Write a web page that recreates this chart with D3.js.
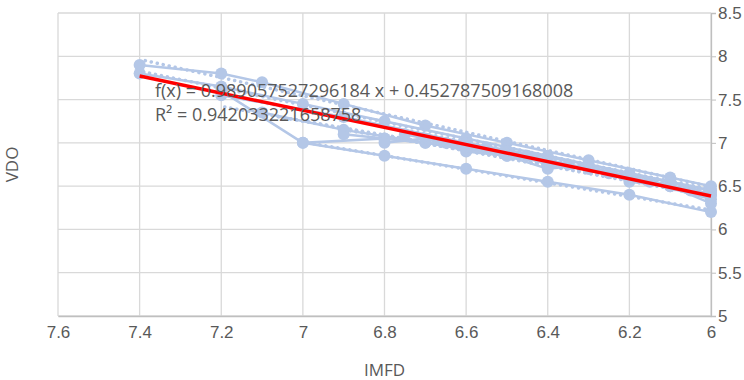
<!DOCTYPE html>
<html>
<head>
<meta charset="utf-8">
<script src="https://cdn.jsdelivr.net/npm/d3@7"></script>
<style>
  body { margin: 0; background: #fff; }
  svg { font-family: "Open Sans", "Liberation Sans", sans-serif; }
</style>
</head>
<body>
<svg id="chart" width="744" height="380"></svg>
<script>
// x ticks (axis reversed), y ticks
const x_ticks = [7.6, 7.4, 7.2, 7, 6.8, 6.6, 6.4, 6.2, 6];
const y_ticks = [5, 5.5, 6, 6.5, 7, 7.5, 8, 8.5];

// series (IMFD, VDO)
const s1_x = [7.4, 7.2, 7.1, 6.9, 6.7, 6.5, 6.3, 6.1, 6.0];
const s1_y = [7.9, 7.8, 7.7, 7.45, 7.2, 7.0, 6.8, 6.6, 6.5];
const s2_x = [7.4, 7.2, 7.0, 6.8, 6.6, 6.4, 6.2, 6.0];
const s2_y = [7.8, 7.65, 7.45, 7.25, 7.05, 6.85, 6.65, 6.45];
const s3_x = [7.2, 7.0, 6.8, 6.6, 6.4, 6.2, 6.0];
const s3_y = [7.6, 7.0, 7.05, 6.95, 6.8, 6.6, 6.35];
const s4_x = [7.0, 6.8, 6.6, 6.4, 6.2, 6.0];
const s4_y = [7.0, 6.85, 6.7, 6.55, 6.4, 6.2];
const s5_x = [7.1, 6.9, 6.7, 6.5, 6.3, 6.1, 6.0];
const s5_y = [7.35, 7.15, 7.0, 6.85, 6.7, 6.55, 6.4];
const s6_x = [6.8, 6.7, 6.6, 6.5, 6.4, 6.3, 6.2, 6.1, 6.0];
const s6_y = [7.0, 7.05, 6.9, 6.85, 6.7, 6.75, 6.55, 6.5, 6.3];
const s7_x = [6.9, 6.8, 6.7, 6.6, 6.5, 6.4, 6.3, 6.2, 6.1, 6.0];
const s7_y = [7.1, 7.05, 7.0, 6.95, 6.9, 6.75, 6.7, 6.6, 6.5, 6.4];
const s8_x = [6.75, 6.65, 6.55, 6.45, 6.35, 6.25, 6.15, 6.05];
const s8_y = [7.1, 7.0, 6.95, 6.85, 6.75, 6.65, 6.55, 6.45];
const s9_x = [7.2, 6.9, 6.6, 6.3, 6.0];
const s9_y = [7.55, 7.3, 7.0, 6.75, 6.45];

// overall trendline from the chart label
const trend_slope = 0.989057527296184;
const trend_intercept = 0.452787509168008;
const trend_label = "f(x) = 0.989057527296184 x + 0.452787509168008";
const r2_label = "R² = 0.942033221658758";

const series_x = [s1_x, s2_x, s3_x, s4_x, s5_x, s6_x, s7_x, s8_x, s9_x];
const series_y = [s1_y, s2_y, s3_y, s4_y, s5_y, s6_y, s7_y, s8_y, s9_y];
const series = series_x.map((xs, i) => xs.map((x, j) => ({ x: x, y: series_y[i][j] })));

const blue = "#b4c7e7";
const grid_color = "#d9d9d9";
const text_color = "#595959";

const svg = d3.select("#chart");
const x_scale = d3.scaleLinear().domain([7.6, 6]).range([58, 711]);
const y_scale = d3.scaleLinear().domain([5, 8.5]).range([316, 13]);

// gridlines
svg.append("g")
    .selectAll("line")
    .data(y_ticks)
    .enter()
    .append("line")
    .attr("x1", x_scale(7.6))
    .attr("x2", x_scale(6))
    .attr("y1", (d) => y_scale(d))
    .attr("y2", (d) => y_scale(d))
    .attr("stroke", grid_color)
    .attr("stroke-width", 1.3);
svg.append("g")
    .selectAll("line")
    .data(x_ticks)
    .enter()
    .append("line")
    .attr("x1", (d) => x_scale(d))
    .attr("x2", (d) => x_scale(d))
    .attr("y1", y_scale(8.5))
    .attr("y2", y_scale(5))
    .attr("stroke", grid_color)
    .attr("stroke-width", 1.3);

// axes
const x_axis = svg.append("g")
    .attr("transform", `translate(0, ${y_scale(5)})`)
    .call(d3.axisBottom(x_scale).tickValues(x_ticks).tickSize(0).tickPadding(10).tickFormat(d3.format("")));
const y_axis = svg.append("g")
    .attr("transform", `translate(${x_scale(6)}, 0)`)
    .call(d3.axisRight(y_scale).tickValues(y_ticks).tickSize(5).tickPadding(2).tickFormat(d3.format("")));
[x_axis, y_axis].forEach((ax) => {
    ax.select(".domain").attr("stroke", "#bfbfbf").attr("stroke-width", 1.3);
    ax.selectAll(".tick line").attr("stroke", "#bfbfbf");
    ax.selectAll("text").attr("fill", text_color).style("font-size", "17px");
});
x_axis.selectAll(".tick line").remove();

// axis titles
svg.append("text")
    .attr("x", x_scale(6.8))
    .attr("y", 376)
    .attr("text-anchor", "middle")
    .attr("fill", text_color)
    .style("font-size", "17px")
    .text("IMFD");
svg.append("text")
    .attr("transform", `translate(18, ${y_scale(6.75)}) rotate(-90)`)
    .attr("text-anchor", "middle")
    .attr("fill", text_color)
    .style("font-size", "17px")
    .text("VDO");

// series lines and markers
const line = d3.line().x((d) => x_scale(d.x)).y((d) => y_scale(d.y));
const plot = svg.append("g");
series.forEach((pts) => {
    plot.append("path")
        .datum(pts)
        .attr("fill", "none")
        .attr("stroke", blue)
        .attr("stroke-width", 2.5)
        .attr("d", line);
    plot.selectAll(null)
        .data(pts)
        .enter()
        .append("circle")
        .attr("cx", (d) => x_scale(d.x))
        .attr("cy", (d) => y_scale(d.y))
        .attr("r", 6)
        .attr("fill", blue);
});

// per-series dotted linear trendlines
series.forEach((pts) => {
    const mx = d3.mean(pts, (d) => d.x);
    const my = d3.mean(pts, (d) => d.y);
    const b = d3.sum(pts, (d) => (d.x - mx) * (d.y - my)) / d3.sum(pts, (d) => (d.x - mx) ** 2);
    const a = my - b * mx;
    const ext = d3.extent(pts, (d) => d.x);
    plot.append("path")
        .datum(ext.map((x) => ({ x: x, y: a + b * x })))
        .attr("fill", "none")
        .attr("stroke", blue)
        .attr("stroke-width", 3.5)
        .attr("stroke-linecap", "round")
        .attr("stroke-dasharray", "0.1 6")
        .attr("d", line);
});

// overall trendline
const all_x = series.flat().map((d) => d.x);
const trend_ext = d3.extent(all_x);
svg.append("path")
    .datum(trend_ext.map((x) => ({ x: x, y: trend_slope * x + trend_intercept })))
    .attr("fill", "none")
    .attr("stroke", "#ff0000")
    .attr("stroke-width", 3.5)
    .attr("d", line);

// equation labels
svg.append("text")
    .attr("x", 155)
    .attr("y", 97)
    .attr("fill", text_color)
    .style("font-size", "18px")
    .text(trend_label);
svg.append("text")
    .attr("x", 155)
    .attr("y", 121)
    .attr("fill", text_color)
    .style("font-size", "18px")
    .text(r2_label);
</script>
</body>
</html>
